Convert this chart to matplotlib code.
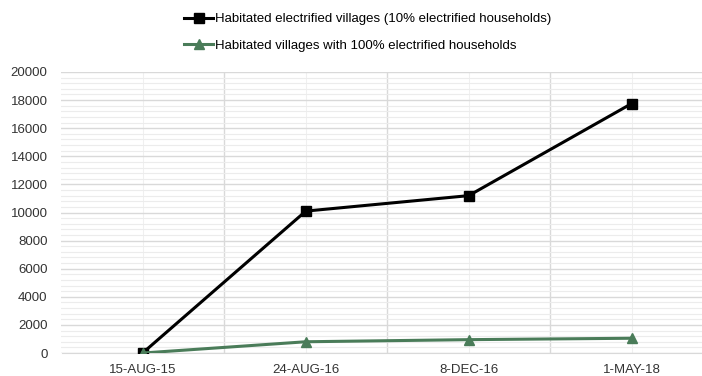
import matplotlib

matplotlib.use("Agg")
import matplotlib.pyplot as plt
from matplotlib.ticker import MultipleLocator, FixedLocator
from matplotlib.lines import Line2D

# 날짜별 전기화 마을 수 (그림에서 읽은 추정값)
dates = ["15-AUG-15", "24-AUG-16", "8-DEC-16", "1-MAY-18"]
electrified_villages = [20, 10100, 11200, 17750]
fully_electrified_villages = [0, 800, 950, 1050]
y_ticks = list(range(0, 20001, 2000))

BLACK = "#000000"
GREEN = "#4a7c59"

plt.rcParams["font.family"] = ["Liberation Sans", "DejaVu Sans"]

fig = plt.figure(figsize=(7.02, 3.76), dpi=100)
ax = fig.add_axes([61.5 / 702, 23 / 376, (713 - 61.5) / 702, (353 - 72) / 376])

x = list(range(len(dates)))
ax.plot(x, electrified_villages, color=BLACK, lw=2.2, marker="s", ms=7, zorder=4)
ax.plot(x, fully_electrified_villages, color=GREEN, lw=2.2, marker="^", ms=7, zorder=4)

ax.set_xlim(-0.5, len(dates) - 0.5)
ax.set_ylim(0, 20000)
ax.set_xticks(x)
ax.set_xticklabels(dates)
ax.set_yticks(y_ticks)
ax.yaxis.set_minor_locator(MultipleLocator(400))
ax.xaxis.set_minor_locator(FixedLocator([i + 0.5 for i in range(len(dates) - 1)]))

ax.grid(axis="y", which="major", color="#d9d9d9", lw=1.0)
ax.grid(axis="y", which="minor", color="#ececec", lw=0.8)
ax.grid(axis="x", which="minor", color="#d9d9d9", lw=1.0)
ax.grid(axis="x", which="major", color="#f0f0f0", lw=0.8)
ax.set_axisbelow(True)

for side in ["top", "right", "left"]:
    ax.spines[side].set_visible(False)
ax.spines["bottom"].set_color("#d9d9d9")
ax.tick_params(axis="both", which="both", length=0, labelsize=9.5, colors="#333333")
ax.tick_params(axis="x", pad=8)
ax.tick_params(axis="y", pad=10)

handles = [
    Line2D([], [], color=BLACK, lw=2.2, marker="s", ms=7),
    Line2D([], [], color=GREEN, lw=2.2, marker="^", ms=7),
]
labels = [
    "Habitated electrified villages (10% electrified households)",
    "Habitated villages with 100% electrified households",
]
fig.legend(handles, labels, loc="upper left", bbox_to_anchor=(171 / 702, 1.0),
           frameon=False, fontsize=9.5, handlelength=2.2, handletextpad=0.1,
           labelspacing=1.05, borderaxespad=0.6)

fig.savefig("out.png", dpi=100)
